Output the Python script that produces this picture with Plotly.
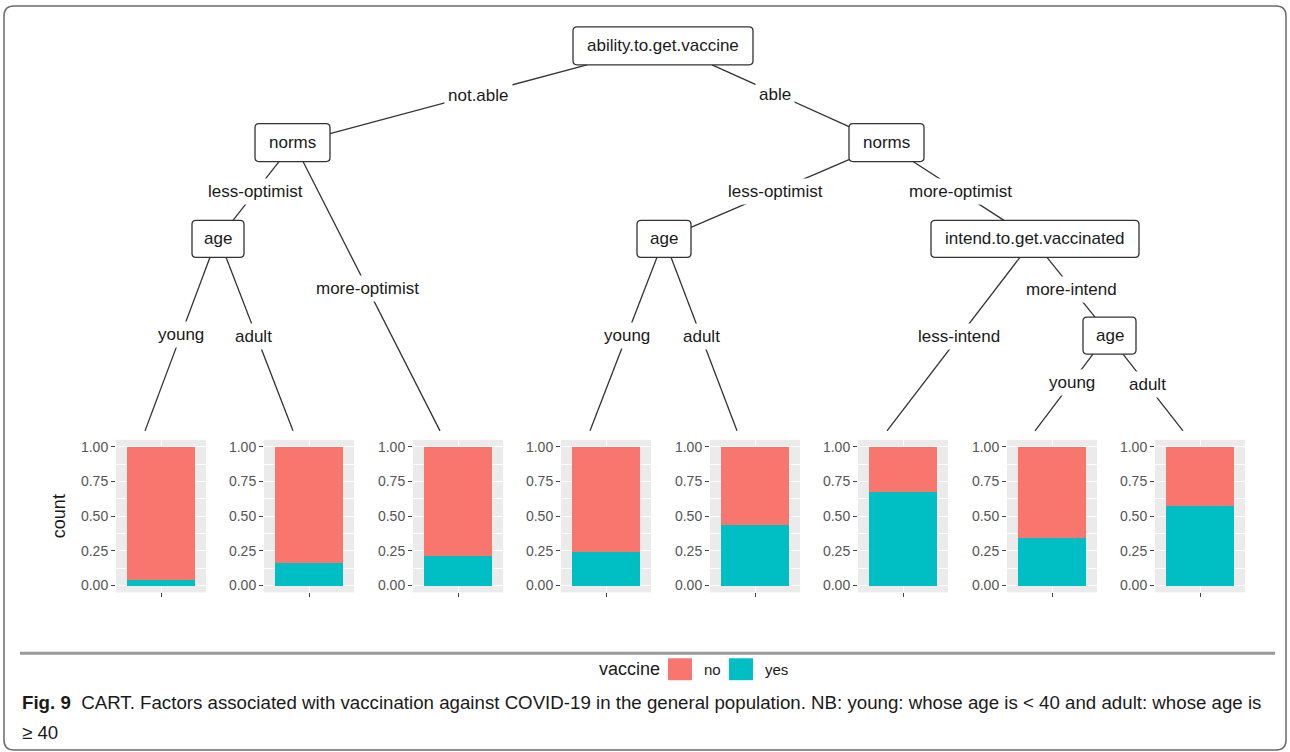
import plotly.graph_objects as go

# ---------------- data ----------------
leaf_paths = [
    "not.able / less-optimist / young",
    "not.able / less-optimist / adult",
    "not.able / more-optimist",
    "able / less-optimist / young",
    "able / less-optimist / adult",
    "able / more-optimist / less-intend",
    "able / more-optimist / more-intend / young",
    "able / more-optimist / more-intend / adult",
]
yes_share = [0.04, 0.165, 0.215, 0.24, 0.44, 0.675, 0.345, 0.575]
no_share = [0.96, 0.835, 0.785, 0.76, 0.56, 0.325, 0.655, 0.425]
y_ticks = [0, 0.25, 0.5, 0.75, 1.0]
y_ticklabels = ["0.00", "0.25", "0.50", "0.75", "1.00"]

node_names = ["ability.to.get.vaccine", "norms", "norms", "age", "age",
              "intend.to.get.vaccinated", "age"]
edge_labels = ["not.able", "able", "less-optimist", "more-optimist",
               "less-optimist", "more-optimist", "young", "adult",
               "young", "adult", "less-intend", "more-intend", "young", "adult"]

# ---------------- layout (pixels) ----------------
W, H = 1290, 752
def fx(x): return x / W
def fy(y): return 1 - y / H

node_boxes = [  # x0, y0, x1, y1
    (573, 26, 753, 64),
    (255, 123, 330, 161),
    (849, 123, 924, 161),
    (192, 220, 244, 257),
    (637, 220, 691, 257),
    (931, 220, 1139, 257),
    (1083, 317, 1136, 354),
]
edge_lines = [  # start, end, label position
    ((587, 64), (330, 133), (478, 95)),
    ((712, 64), (849, 126), (775, 94)),
    ((279, 161), (233, 220), (255, 191)),
    ((303, 161), (440, 431), (367, 288)),
    ((849, 159), (691, 227), (775, 191)),
    ((913, 161), (1004, 220), (960, 191)),
    ((210, 257), (145, 431), (181, 334)),
    ((226, 257), (293, 431), (253, 336)),
    ((657, 257), (590, 431), (627, 335)),
    ((671, 257), (737, 431), (701, 336)),
    ((1020, 257), (887, 431), (959, 336)),
    ((1047, 257), (1095, 317), (1071, 289)),
    ((1093, 354), (1035, 431), (1072, 383)),
    ((1123, 354), (1183, 431), (1147, 385)),
]
panel_centers = [161, 309, 458, 606, 755, 903, 1052, 1200]
panel_half = 45
panel_top, panel_bottom = 440, 593

TXT = "Liberation Sans, Arial, sans-serif"
NO_COL, YES_COL = "#F8766D", "#00BFC4"

fig = go.Figure()
layout_axes = {}
for i, c in enumerate(panel_centers):
    k = "" if i == 0 else str(i + 1)
    fig.add_trace(go.Bar(x=[1], y=[yes_share[i]], width=0.9, name="yes",
                         marker=dict(color=YES_COL, line=dict(width=0)),
                         xaxis="x" + k, yaxis="y" + k, showlegend=False,
                         hovertext=leaf_paths[i]))
    fig.add_trace(go.Bar(x=[1], y=[no_share[i]], width=0.9, name="no",
                         marker=dict(color=NO_COL, line=dict(width=0)),
                         xaxis="x" + k, yaxis="y" + k, showlegend=False,
                         hovertext=leaf_paths[i]))
    layout_axes["xaxis" + k] = dict(
        domain=[fx(c - panel_half), fx(c + panel_half)], range=[0.4, 1.6],
        anchor="y" + k, tickvals=[1], ticktext=[""], ticks="outside",
        ticklen=4, tickcolor="#444", showgrid=True, gridcolor="white",
        zeroline=False, showline=False, fixedrange=True)
    ya = dict(
        domain=[fy(panel_bottom), fy(panel_top)], range=[-0.05, 1.05],
        anchor="x" + k, tickvals=y_ticks, ticktext=y_ticklabels,
        ticks="outside", ticklen=4, tickcolor="#444",
        tickfont=dict(family=TXT, size=14, color="#555555"),
        showgrid=True, gridcolor="white", gridwidth=1.2,
        minor=dict(tickvals=[0.125, 0.375, 0.625, 0.875], showgrid=True,
                   gridcolor="white", gridwidth=0.6),
        zeroline=False, showline=False, fixedrange=True)
    if i == 0:
        ya["title"] = dict(text="count", font=dict(family=TXT, size=18,
                                                   color="#1a1a1a"), standoff=10)
    layout_axes["yaxis" + k] = ya

shapes = []
annotations = []

# outer frame
r = 10
x0, y0, x1, y1 = 4, 5, 1286, 751
path = (f"M {fx(x0)} {fy(y0 + r)} Q {fx(x0)} {fy(y0)} {fx(x0 + r)} {fy(y0)} "
        f"L {fx(x1 - r)} {fy(y0)} Q {fx(x1)} {fy(y0)} {fx(x1)} {fy(y0 + r)} "
        f"L {fx(x1)} {fy(y1 - r)} Q {fx(x1)} {fy(y1)} {fx(x1 - r)} {fy(y1)} "
        f"L {fx(x0 + r)} {fy(y1)} Q {fx(x0)} {fy(y1)} {fx(x0)} {fy(y1 - r)} Z")
shapes.append(dict(type="path", xref="paper", yref="paper", path=path,
                   line=dict(color="#6b6b6b", width=1.5)))

# edges
for (s, e, lp), lab in zip(edge_lines, edge_labels):
    shapes.append(dict(type="line", xref="paper", yref="paper",
                       x0=fx(s[0]), y0=fy(s[1]), x1=fx(e[0]), y1=fy(e[1]),
                       line=dict(color="#333333", width=1.3)))
    annotations.append(dict(x=fx(lp[0]), y=fy(lp[1]), xref="paper", yref="paper",
                            text=lab, showarrow=False, xanchor="center",
                            yanchor="middle", bgcolor="white", borderpad=3,
                            font=dict(family=TXT, size=17, color="#1a1a1a")))

# node boxes
rr = 4
for (bx0, by0, bx1, by1), name in zip(node_boxes, node_names):
    p = (f"M {fx(bx0)} {fy(by0 + rr)} Q {fx(bx0)} {fy(by0)} {fx(bx0 + rr)} {fy(by0)} "
         f"L {fx(bx1 - rr)} {fy(by0)} Q {fx(bx1)} {fy(by0)} {fx(bx1)} {fy(by0 + rr)} "
         f"L {fx(bx1)} {fy(by1 - rr)} Q {fx(bx1)} {fy(by1)} {fx(bx1 - rr)} {fy(by1)} "
         f"L {fx(bx0 + rr)} {fy(by1)} Q {fx(bx0)} {fy(by1)} {fx(bx0)} {fy(by1 - rr)} Z")
    shapes.append(dict(type="path", xref="paper", yref="paper", path=p,
                       fillcolor="white", line=dict(color="#333333", width=1.3)))
    annotations.append(dict(x=fx((bx0 + bx1) / 2), y=fy((by0 + by1) / 2),
                            xref="paper", yref="paper", text=name, showarrow=False,
                            xanchor="center", yanchor="middle",
                            font=dict(family=TXT, size=17, color="#1a1a1a")))

# gray rule above legend
shapes.append(dict(type="line", xref="paper", yref="paper",
                   x0=fx(20), x1=fx(1275), y0=fy(654), y1=fy(654),
                   line=dict(color="#9a9a9a", width=3)))

# legend
annotations.append(dict(x=fx(597), y=fy(670), xref="paper", yref="paper",
                        text="vaccine", showarrow=False, xanchor="left",
                        yanchor="middle", font=dict(family=TXT, size=18, color="#1a1a1a")))
for lx, col, lab in [(668, NO_COL, "no"), (729, YES_COL, "yes")]:
    shapes.append(dict(type="rect", xref="paper", yref="paper",
                       x0=fx(lx), x1=fx(lx + 24), y0=fy(681), y1=fy(659),
                       fillcolor=col, line=dict(width=0)))
    annotations.append(dict(x=fx(lx + 34), y=fy(670), xref="paper", yref="paper",
                            text=lab, showarrow=False, xanchor="left",
                            yanchor="middle",
                            font=dict(family=TXT, size=15, color="#1a1a1a")))

# caption
CAP = "Liberation Sans, Arial, sans-serif"
annotations.append(dict(
    x=fx(20), y=fy(703), xref="paper", yref="paper", showarrow=False,
    xanchor="left", yanchor="middle",
    text=("<b>Fig. 9</b>  CART. Factors associated with vaccination against COVID-19 "
          "in the general population. NB: young: whose age is &lt; 40 and adult: whose age is"),
    font=dict(family=CAP, size=18.7, color="#1a1a1a")))
annotations.append(dict(
    x=fx(20), y=fy(733), xref="paper", yref="paper", showarrow=False,
    xanchor="left", yanchor="middle", text="≥ 40",
    font=dict(family=CAP, size=18.7, color="#1a1a1a")))

fig.update_layout(
    width=W, height=H, margin=dict(l=0, r=0, t=0, b=0),
    paper_bgcolor="white", plot_bgcolor="#EBEBEB",
    barmode="stack", bargap=0, showlegend=False,
    shapes=shapes, annotations=annotations, **layout_axes)

fig.write_html("out.html",
               config={"displayModeBar": False},
               post_script="document.body.style.margin='0px';"
                           "document.body.style.overflow='hidden';")
